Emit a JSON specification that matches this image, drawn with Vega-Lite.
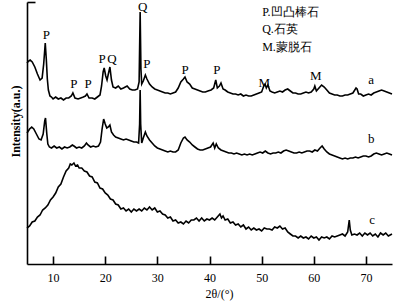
{
"$schema":"https://vega.github.io/schema/vega-lite/v6.json",
"width":365,"height":262,
"autosize":"none",
"padding":{"left":27,"top":2,"right":11,"bottom":40},
"background":"white",
"config":{"view":{"stroke":null},"font":"Liberation Serif"},
"datasets":{
"curves":[
{"s":"a","t":5,"i":201},{"s":"a","t":5.3,"i":203},{"s":"a","t":5.6,"i":204},{"s":"a","t":6,"i":202},{"s":"a","t":6.5,"i":197},{"s":"a","t":7,"i":190},{"s":"a","t":7.5,"i":184},{"s":"a","t":7.9,"i":186},{"s":"a","t":8.2,"i":200},{"s":"a","t":8.5,"i":221},{"s":"a","t":8.7,"i":205},{"s":"a","t":8.9,"i":185},{"s":"a","t":9.1,"i":174},{"s":"a","t":9.4,"i":168},{"s":"a","t":9.7,"i":167},{"s":"a","t":10,"i":165},{"s":"a","t":10.5,"i":167},{"s":"a","t":11,"i":165},{"s":"a","t":11.5,"i":166},{"s":"a","t":12,"i":164},{"s":"a","t":12.5,"i":166},{"s":"a","t":13,"i":166},{"s":"a","t":13.5,"i":168},{"s":"a","t":13.8,"i":171},{"s":"a","t":14.2,"i":166},{"s":"a","t":14.8,"i":165},{"s":"a","t":15.3,"i":166},{"s":"a","t":15.8,"i":167},{"s":"a","t":16.2,"i":168},{"s":"a","t":16.5,"i":170},{"s":"a","t":16.9,"i":166},{"s":"a","t":17.5,"i":166},{"s":"a","t":18,"i":165},{"s":"a","t":18.5,"i":167},{"s":"a","t":19,"i":169},{"s":"a","t":19.3,"i":178},{"s":"a","t":19.6,"i":192},{"s":"a","t":19.8,"i":196},{"s":"a","t":20.1,"i":188},{"s":"a","t":20.35,"i":184},{"s":"a","t":20.6,"i":190},{"s":"a","t":20.9,"i":197},{"s":"a","t":21.2,"i":184},{"s":"a","t":21.5,"i":177},{"s":"a","t":22,"i":176},{"s":"a","t":22.5,"i":178},{"s":"a","t":23,"i":175},{"s":"a","t":23.5,"i":176},{"s":"a","t":24.2,"i":178},{"s":"a","t":24.7,"i":175},{"s":"a","t":25.2,"i":174},{"s":"a","t":25.7,"i":174},{"s":"a","t":26.2,"i":175},{"s":"a","t":26.5,"i":182},{"s":"a","t":26.7,"i":252},{"s":"a","t":26.85,"i":195},{"s":"a","t":27,"i":180},{"s":"a","t":27.3,"i":183},{"s":"a","t":27.7,"i":189},{"s":"a","t":28,"i":185},{"s":"a","t":28.5,"i":180},{"s":"a","t":29,"i":177},{"s":"a","t":29.5,"i":175},{"s":"a","t":30,"i":174},{"s":"a","t":30.5,"i":173},{"s":"a","t":31,"i":172},{"s":"a","t":31.5,"i":171},{"s":"a","t":32,"i":171},{"s":"a","t":32.5,"i":170},{"s":"a","t":33,"i":171},{"s":"a","t":33.5,"i":172},{"s":"a","t":34,"i":176},{"s":"a","t":34.5,"i":182},{"s":"a","t":35,"i":185},{"s":"a","t":35.3,"i":187},{"s":"a","t":35.7,"i":182},{"s":"a","t":36.2,"i":180},{"s":"a","t":36.7,"i":176},{"s":"a","t":37.2,"i":175},{"s":"a","t":37.7,"i":174},{"s":"a","t":38.2,"i":173},{"s":"a","t":38.7,"i":172},{"s":"a","t":39.2,"i":172},{"s":"a","t":39.7,"i":173},{"s":"a","t":40.3,"i":174},{"s":"a","t":40.8,"i":176},{"s":"a","t":41.2,"i":184},{"s":"a","t":41.5,"i":176},{"s":"a","t":41.9,"i":178},{"s":"a","t":42.2,"i":181},{"s":"a","t":42.6,"i":175},{"s":"a","t":43,"i":174},{"s":"a","t":43.5,"i":172},{"s":"a","t":44,"i":171},{"s":"a","t":44.5,"i":170},{"s":"a","t":45,"i":170},{"s":"a","t":45.5,"i":169},{"s":"a","t":46,"i":170},{"s":"a","t":46.5,"i":168},{"s":"a","t":47,"i":169},{"s":"a","t":47.5,"i":168},{"s":"a","t":48,"i":168},{"s":"a","t":48.5,"i":169},{"s":"a","t":49,"i":170},{"s":"a","t":49.5,"i":171},{"s":"a","t":50,"i":172},{"s":"a","t":50.4,"i":178},{"s":"a","t":50.65,"i":180},{"s":"a","t":50.9,"i":176},{"s":"a","t":51.2,"i":179},{"s":"a","t":51.6,"i":173},{"s":"a","t":52,"i":172},{"s":"a","t":52.5,"i":171},{"s":"a","t":53,"i":172},{"s":"a","t":53.5,"i":173},{"s":"a","t":54,"i":172},{"s":"a","t":54.5,"i":174},{"s":"a","t":55,"i":175},{"s":"a","t":55.5,"i":173},{"s":"a","t":56,"i":171},{"s":"a","t":56.5,"i":171},{"s":"a","t":57,"i":170},{"s":"a","t":57.5,"i":170},{"s":"a","t":58,"i":171},{"s":"a","t":58.5,"i":172},{"s":"a","t":59,"i":171},{"s":"a","t":59.5,"i":172},{"s":"a","t":60,"i":175},{"s":"a","t":60.2,"i":178},{"s":"a","t":60.5,"i":173},{"s":"a","t":61,"i":176},{"s":"a","t":61.5,"i":179},{"s":"a","t":62,"i":177},{"s":"a","t":62.5,"i":174},{"s":"a","t":63,"i":171},{"s":"a","t":63.5,"i":170},{"s":"a","t":64,"i":169},{"s":"a","t":64.5,"i":169},{"s":"a","t":65,"i":168},{"s":"a","t":65.5,"i":168},{"s":"a","t":66,"i":169},{"s":"a","t":66.5,"i":169},{"s":"a","t":67,"i":170},{"s":"a","t":67.5,"i":171},{"s":"a","t":68.1,"i":176},{"s":"a","t":68.3,"i":175},{"s":"a","t":68.6,"i":170},{"s":"a","t":69,"i":170},{"s":"a","t":69.5,"i":168},{"s":"a","t":70,"i":169},{"s":"a","t":70.5,"i":170},{"s":"a","t":71,"i":169},{"s":"a","t":71.5,"i":171},{"s":"a","t":72,"i":172},{"s":"a","t":72.5,"i":173},{"s":"a","t":73,"i":174},{"s":"a","t":73.5,"i":173},{"s":"a","t":74,"i":172},{"s":"a","t":74.5,"i":171},{"s":"a","t":75,"i":170},
{"s":"b","t":5,"i":131},{"s":"b","t":5.5,"i":135},{"s":"b","t":5.9,"i":137},{"s":"b","t":6.3,"i":135},{"s":"b","t":6.8,"i":130},{"s":"b","t":7.3,"i":125},{"s":"b","t":7.7,"i":124},{"s":"b","t":8.1,"i":130},{"s":"b","t":8.4,"i":143},{"s":"b","t":8.55,"i":146},{"s":"b","t":8.8,"i":130},{"s":"b","t":9,"i":120},{"s":"b","t":9.3,"i":117},{"s":"b","t":9.7,"i":116},{"s":"b","t":10.2,"i":118},{"s":"b","t":10.7,"i":116},{"s":"b","t":11.2,"i":117},{"s":"b","t":11.7,"i":115},{"s":"b","t":12.2,"i":117},{"s":"b","t":12.7,"i":116},{"s":"b","t":13.2,"i":117},{"s":"b","t":13.7,"i":119},{"s":"b","t":14,"i":118},{"s":"b","t":14.5,"i":116},{"s":"b","t":15,"i":117},{"s":"b","t":15.5,"i":116},{"s":"b","t":16,"i":118},{"s":"b","t":16.4,"i":121},{"s":"b","t":16.7,"i":119},{"s":"b","t":17.2,"i":117},{"s":"b","t":17.7,"i":118},{"s":"b","t":18.2,"i":117},{"s":"b","t":18.7,"i":118},{"s":"b","t":19.1,"i":122},{"s":"b","t":19.4,"i":135},{"s":"b","t":19.7,"i":145},{"s":"b","t":20,"i":140},{"s":"b","t":20.3,"i":136},{"s":"b","t":20.6,"i":137},{"s":"b","t":20.9,"i":139},{"s":"b","t":21.2,"i":132},{"s":"b","t":21.6,"i":129},{"s":"b","t":22,"i":127},{"s":"b","t":22.5,"i":126},{"s":"b","t":23,"i":125},{"s":"b","t":23.5,"i":124},{"s":"b","t":24,"i":125},{"s":"b","t":24.5,"i":124},{"s":"b","t":25,"i":123},{"s":"b","t":25.5,"i":122},{"s":"b","t":26,"i":122},{"s":"b","t":26.4,"i":121},{"s":"b","t":26.6,"i":140},{"s":"b","t":26.7,"i":174},{"s":"b","t":26.8,"i":140},{"s":"b","t":27,"i":121},{"s":"b","t":27.3,"i":126},{"s":"b","t":27.7,"i":132},{"s":"b","t":28,"i":128},{"s":"b","t":28.5,"i":124},{"s":"b","t":29,"i":121},{"s":"b","t":29.5,"i":118},{"s":"b","t":30,"i":116},{"s":"b","t":30.5,"i":115},{"s":"b","t":31,"i":114},{"s":"b","t":31.5,"i":113},{"s":"b","t":32,"i":112},{"s":"b","t":32.5,"i":113},{"s":"b","t":33,"i":112},{"s":"b","t":33.5,"i":112},{"s":"b","t":34,"i":114},{"s":"b","t":34.5,"i":121},{"s":"b","t":35,"i":126},{"s":"b","t":35.3,"i":127},{"s":"b","t":35.7,"i":124},{"s":"b","t":36.2,"i":122},{"s":"b","t":36.7,"i":119},{"s":"b","t":37.2,"i":117},{"s":"b","t":37.7,"i":115},{"s":"b","t":38.2,"i":114},{"s":"b","t":38.7,"i":114},{"s":"b","t":39.2,"i":115},{"s":"b","t":39.7,"i":116},{"s":"b","t":40.2,"i":117},{"s":"b","t":40.7,"i":121},{"s":"b","t":41,"i":116},{"s":"b","t":41.3,"i":120},{"s":"b","t":41.7,"i":116},{"s":"b","t":42.2,"i":114},{"s":"b","t":42.7,"i":113},{"s":"b","t":43.2,"i":112},{"s":"b","t":43.7,"i":111},{"s":"b","t":44.2,"i":111},{"s":"b","t":44.7,"i":110},{"s":"b","t":45.2,"i":111},{"s":"b","t":45.7,"i":110},{"s":"b","t":46.2,"i":109},{"s":"b","t":46.7,"i":110},{"s":"b","t":47.2,"i":109},{"s":"b","t":47.7,"i":110},{"s":"b","t":48.2,"i":109},{"s":"b","t":48.7,"i":110},{"s":"b","t":49.2,"i":111},{"s":"b","t":49.7,"i":112},{"s":"b","t":50.2,"i":111},{"s":"b","t":50.7,"i":113},{"s":"b","t":51.2,"i":111},{"s":"b","t":51.7,"i":110},{"s":"b","t":52.2,"i":111},{"s":"b","t":52.7,"i":111},{"s":"b","t":53.2,"i":112},{"s":"b","t":53.7,"i":111},{"s":"b","t":54.2,"i":113},{"s":"b","t":54.7,"i":114},{"s":"b","t":55.2,"i":113},{"s":"b","t":55.7,"i":112},{"s":"b","t":56.2,"i":111},{"s":"b","t":56.7,"i":111},{"s":"b","t":57.2,"i":112},{"s":"b","t":57.7,"i":111},{"s":"b","t":58.2,"i":112},{"s":"b","t":58.7,"i":113},{"s":"b","t":59.2,"i":113},{"s":"b","t":59.7,"i":112},{"s":"b","t":60.2,"i":114},{"s":"b","t":60.7,"i":113},{"s":"b","t":61.2,"i":116},{"s":"b","t":61.6,"i":118},{"s":"b","t":62,"i":115},{"s":"b","t":62.5,"i":112},{"s":"b","t":63,"i":110},{"s":"b","t":63.5,"i":109},{"s":"b","t":64,"i":108},{"s":"b","t":64.5,"i":107},{"s":"b","t":65,"i":106},{"s":"b","t":65.5,"i":105},{"s":"b","t":66,"i":106},{"s":"b","t":66.5,"i":105},{"s":"b","t":67,"i":106},{"s":"b","t":67.5,"i":106},{"s":"b","t":68,"i":107},{"s":"b","t":68.5,"i":106},{"s":"b","t":69,"i":107},{"s":"b","t":69.5,"i":108},{"s":"b","t":70,"i":108},{"s":"b","t":70.5,"i":107},{"s":"b","t":71,"i":108},{"s":"b","t":71.5,"i":110},{"s":"b","t":72,"i":111},{"s":"b","t":72.5,"i":110},{"s":"b","t":73,"i":109},{"s":"b","t":73.5,"i":110},{"s":"b","t":74,"i":111},{"s":"b","t":74.5,"i":110},{"s":"b","t":75,"i":109},
{"s":"c","t":5,"i":36},{"s":"c","t":5.5,"i":38},{"s":"c","t":6,"i":42},{"s":"c","t":6.5,"i":43},{"s":"c","t":7,"i":47},{"s":"c","t":7.5,"i":49},{"s":"c","t":8,"i":54},{"s":"c","t":8.5,"i":56},{"s":"c","t":9,"i":59},{"s":"c","t":9.5,"i":64},{"s":"c","t":10,"i":67},{"s":"c","t":10.5,"i":71},{"s":"c","t":11,"i":77},{"s":"c","t":11.5,"i":80},{"s":"c","t":12,"i":87},{"s":"c","t":12.5,"i":93},{"s":"c","t":13,"i":96},{"s":"c","t":13.3,"i":100},{"s":"c","t":13.6,"i":99},{"s":"c","t":14,"i":101},{"s":"c","t":14.3,"i":98},{"s":"c","t":14.7,"i":99},{"s":"c","t":15,"i":96},{"s":"c","t":15.5,"i":96},{"s":"c","t":16,"i":93},{"s":"c","t":16.5,"i":92},{"s":"c","t":17,"i":88},{"s":"c","t":17.5,"i":87},{"s":"c","t":18,"i":82},{"s":"c","t":18.5,"i":81},{"s":"c","t":19,"i":76},{"s":"c","t":19.5,"i":75},{"s":"c","t":20,"i":71},{"s":"c","t":20.5,"i":69},{"s":"c","t":21,"i":65},{"s":"c","t":21.5,"i":64},{"s":"c","t":22,"i":60},{"s":"c","t":22.5,"i":59},{"s":"c","t":23,"i":55},{"s":"c","t":23.5,"i":56},{"s":"c","t":24,"i":53},{"s":"c","t":24.5,"i":55},{"s":"c","t":25,"i":52},{"s":"c","t":25.5,"i":55},{"s":"c","t":26,"i":53},{"s":"c","t":26.5,"i":55},{"s":"c","t":27,"i":53},{"s":"c","t":27.5,"i":56},{"s":"c","t":28,"i":54},{"s":"c","t":28.5,"i":57},{"s":"c","t":29,"i":54},{"s":"c","t":29.5,"i":56},{"s":"c","t":30,"i":52},{"s":"c","t":30.5,"i":53},{"s":"c","t":31,"i":50},{"s":"c","t":31.5,"i":49},{"s":"c","t":32,"i":46},{"s":"c","t":32.5,"i":47},{"s":"c","t":33,"i":43},{"s":"c","t":33.5,"i":44},{"s":"c","t":34,"i":41},{"s":"c","t":34.5,"i":42},{"s":"c","t":35,"i":40},{"s":"c","t":35.5,"i":43},{"s":"c","t":36,"i":41},{"s":"c","t":36.5,"i":44},{"s":"c","t":37,"i":44},{"s":"c","t":37.5,"i":46},{"s":"c","t":38,"i":43},{"s":"c","t":38.5,"i":46},{"s":"c","t":39,"i":43},{"s":"c","t":39.5,"i":45},{"s":"c","t":40,"i":44},{"s":"c","t":40.5,"i":46},{"s":"c","t":41,"i":44},{"s":"c","t":41.5,"i":47},{"s":"c","t":42,"i":50},{"s":"c","t":42.3,"i":46},{"s":"c","t":42.6,"i":48},{"s":"c","t":43,"i":44},{"s":"c","t":43.5,"i":45},{"s":"c","t":44,"i":41},{"s":"c","t":44.5,"i":42},{"s":"c","t":45,"i":39},{"s":"c","t":45.5,"i":40},{"s":"c","t":46,"i":37},{"s":"c","t":46.5,"i":39},{"s":"c","t":47,"i":35},{"s":"c","t":47.5,"i":37},{"s":"c","t":48,"i":34},{"s":"c","t":48.5,"i":36},{"s":"c","t":49,"i":34},{"s":"c","t":49.5,"i":35},{"s":"c","t":50,"i":33},{"s":"c","t":50.5,"i":36},{"s":"c","t":51,"i":35},{"s":"c","t":51.5,"i":35},{"s":"c","t":52,"i":34},{"s":"c","t":52.5,"i":37},{"s":"c","t":53,"i":36},{"s":"c","t":53.5,"i":38},{"s":"c","t":54,"i":35},{"s":"c","t":54.5,"i":36},{"s":"c","t":55,"i":32},{"s":"c","t":55.5,"i":30},{"s":"c","t":56,"i":28},{"s":"c","t":56.5,"i":28},{"s":"c","t":57,"i":26},{"s":"c","t":57.5,"i":28},{"s":"c","t":58,"i":26},{"s":"c","t":58.5,"i":27},{"s":"c","t":59,"i":25},{"s":"c","t":59.5,"i":28},{"s":"c","t":60,"i":26},{"s":"c","t":60.5,"i":27},{"s":"c","t":61,"i":24},{"s":"c","t":61.5,"i":27},{"s":"c","t":62,"i":26},{"s":"c","t":62.5,"i":27},{"s":"c","t":63,"i":25},{"s":"c","t":63.5,"i":28},{"s":"c","t":64,"i":27},{"s":"c","t":64.5,"i":28},{"s":"c","t":65,"i":29},{"s":"c","t":65.5,"i":30},{"s":"c","t":66,"i":28},{"s":"c","t":66.5,"i":32},{"s":"c","t":66.8,"i":44},{"s":"c","t":67,"i":34},{"s":"c","t":67.3,"i":29},{"s":"c","t":67.8,"i":30},{"s":"c","t":68.3,"i":29},{"s":"c","t":68.8,"i":31},{"s":"c","t":69.3,"i":28},{"s":"c","t":69.8,"i":31},{"s":"c","t":70.3,"i":29},{"s":"c","t":70.8,"i":31},{"s":"c","t":71.3,"i":28},{"s":"c","t":71.8,"i":30},{"s":"c","t":72.3,"i":27},{"s":"c","t":72.8,"i":31},{"s":"c","t":73.3,"i":29},{"s":"c","t":73.8,"i":31},{"s":"c","t":74.3,"i":28},{"s":"c","t":75,"i":30}
],
"peaks":[{"label":"P","t":8.7,"i":229},{"label":"P","t":14.0,"i":180},{"label":"P","t":16.7,"i":180},{"label":"P","t":19.4,"i":205},{"label":"Q","t":21.3,"i":205},{"label":"Q","t":27.2,"i":257},{"label":"P","t":28.0,"i":200},{"label":"P","t":35.3,"i":194},{"label":"P","t":41.4,"i":194},{"label":"M","t":50.5,"i":181},{"label":"M","t":60.4,"i":188},{"label":"a","t":71.0,"i":184},{"label":"b","t":71.0,"i":125},{"label":"c","t":71.2,"i":44}],
"legend":[{"label":"P.凹凸棒石","t":50.1,"i":252},{"label":"Q.石英","t":50.1,"i":235},{"label":"M.蒙脱石","t":50.1,"i":217}]
},
"layer":[
{"data":{"name":"curves"},
 "mark":{"type":"line","color":"black","strokeWidth":1.6},
 "encoding":{"x":{"field":"t","type":"quantitative","scale":{"domain":[5,75],"nice":false,"zero":false},
   "axis":{"values":[10,20,30,40,50,60,70],"tickSize":-8,"tickWidth":1.6,"tickColor":"black","domainColor":"black","domainWidth":1.6,"labelPadding":16,"labelFont":"Liberation Serif","labelFontSize":12,"labelColor":"black","grid":false,"title":"2θ/(°)","titleFont":"Liberation Serif","titleFontSize":12,"titleFontWeight":"normal","titleColor":"black","titleX":192,"titleY":29,"titleBaseline":"middle","titleAlign":"center"}},
  "y":{"field":"i","type":"quantitative","scale":{"domain":[0,262],"nice":false},
   "axis":{"values":[262],"tickSize":-8,"tickWidth":1.6,"tickColor":"black","domainColor":"black","domainWidth":1.6,"labels":false,"grid":false,"title":"Intensity(a.u.)","titleFont":"Liberation Serif","titleFontSize":12,"titleFontWeight":"bold","titleColor":"black","titleX":-12,"titleY":119,"titleAngle":-90,"titleBaseline":"middle","titleAlign":"center"}},
  "detail":{"field":"s","type":"nominal"}}},
{"data":{"name":"peaks"},
 "mark":{"type":"text","font":"Liberation Serif","fontSize":13,"color":"black","align":"center","baseline":"middle"},
 "encoding":{"x":{"field":"t","type":"quantitative"},"y":{"field":"i","type":"quantitative"},"text":{"field":"label"}}},
{"data":{"name":"legend"},
 "mark":{"type":"text","font":"Liberation Serif","fontSize":12,"color":"black","align":"left","baseline":"middle"},
 "encoding":{"x":{"field":"t","type":"quantitative"},"y":{"field":"i","type":"quantitative"},"text":{"field":"label"}}}
]
}
